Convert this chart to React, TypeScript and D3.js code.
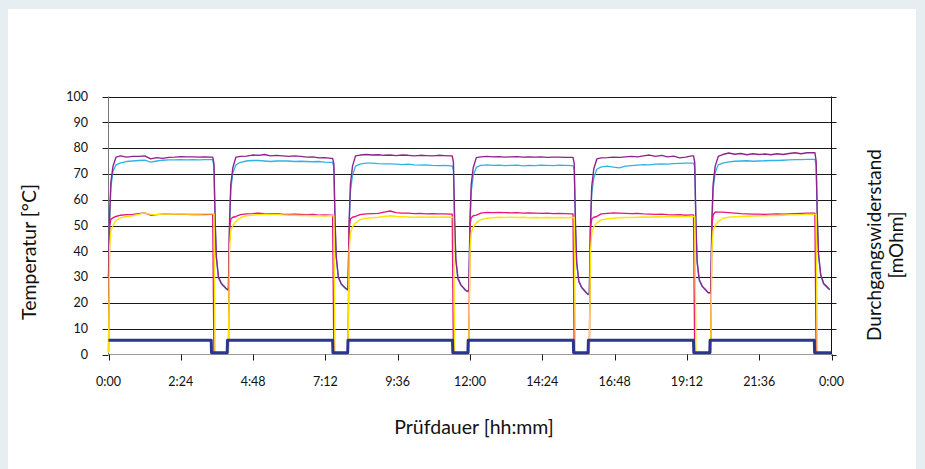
import React from "react";
import * as d3 from "d3";

// ---- data ----
const xTickLabels = ["0:00", "2:24", "4:48", "7:12", "9:36", "12:00", "14:24", "16:48", "19:12", "21:36", "0:00"];
const xTickHours = [0, 2.4, 4.8, 7.2, 9.6, 12, 14.4, 16.8, 19.2, 21.6, 24];
const yTicks = [0, 10, 20, 30, 40, 50, 60, 70, 80, 90, 100];

// start hour of each heating cycle
const cycleStarts = [0, 3.98, 7.95, 11.96, 15.96, 19.99];
// sample offsets (hours) inside one cycle
const cycleOffsets = [0, 0.04, 0.08, 0.15, 0.25, 0.4, 0.6, 0.8, 1.0, 1.2, 1.4, 1.6, 1.8, 2.0, 2.2, 2.4, 2.6, 2.8, 3.0, 3.2, 3.4, 3.46, 3.5, 3.54, 3.58, 3.65, 3.75, 3.9, 3.95];

const tempPurple = [
  [30, 55, 67, 73, 76.5, 77, 76.5, 76.8, 76.8, 77.0, 75.8, 76.3, 76.0, 76.4, 76.5, 76.7, 76.6, 76.6, 76.5, 76.6, 76.5, 76.5, 74, 52, 38, 30, 27.5, 25.7, 25.2],
  [25.2, 52, 66, 72.5, 76.5, 76.8, 76.9, 77.3, 77.2, 77.5, 77, 77.2, 77, 76.8, 77, 76.8, 76.5, 76.6, 76.2, 76.3, 76.0, 76.0, 74, 52, 38, 30, 27.3, 25.6, 25.2],
  [25.2, 52, 66, 73, 77, 77.3, 77.5, 77.3, 77.4, 77.2, 77.3, 77.1, 77.3, 77.2, 77, 77.2, 77.1, 77, 77.2, 77.1, 77.0, 77.0, 74.5, 52, 37, 29.5, 27, 25, 24.6],
  [24.6, 52, 66, 72.5, 76.3, 76.6, 76.8, 76.6, 76.7, 76.5, 76.6, 76.7, 76.5, 76.6, 76.5, 76.6, 76.4, 76.5, 76.5, 76.4, 76.4, 76.4, 74, 51, 36, 28.5, 26, 24, 23.4],
  [23.4, 51, 65, 72, 75.8, 76.2, 76.3, 76.5, 76.4, 76.6, 76.8, 76.6, 77, 77.3, 76.8, 77.2, 76.6, 76.9, 76.2, 76.5, 77.0, 77.0, 74.5, 51, 36, 29, 26.5, 24.6, 24.0],
  [24.0, 52, 66, 73, 76.8, 77.5, 78.1, 77.6, 77.9, 77.4, 77.8, 77.5, 77.7, 77.4, 77.8, 77.5, 77.9, 78.2, 77.8, 78.2, 78.2, 78.2, 75, 53, 39, 31, 27.5, 25.8, 25.2],
];

const tempCyan = [
  [30, 53, 65, 71, 73.5, 74.3, 74.8, 75, 75.2, 75.3, 74.6, 75, 75.3, 75.4, 75.4, 75.5, 75.4, 75.5, 75.4, 75.5, 75.5, 75.5, 73, 51, 37.5, 29.8, 27.3, 25.5, 25.0],
  [25, 50, 64, 70.5, 73.5, 74.5, 75, 75.2, 75.2, 75, 74.8, 75, 75, 75, 74.8, 74.9, 74.8, 74.7, 74.8, 74.6, 74.5, 74.5, 72.5, 51, 37.5, 29.8, 27.1, 25.4, 25.0],
  [25, 50, 63, 69.5, 73, 73.8, 74.2, 74.2, 74, 73.9, 73.9, 73.8, 73.6, 73.8, 73.5, 73.4, 73.5, 73.3, 73.2, 73.3, 73.1, 73.1, 71.5, 51, 36.5, 29.3, 26.8, 24.8, 24.4],
  [24.4, 50, 63, 69.5, 72.5, 73.3, 73.5, 73.3, 73.4, 73.2, 73.3, 73.4, 73.1, 73.3, 73.2, 73.4, 73.3, 73.2, 73.4, 73.3, 73.2, 73.2, 71.5, 50, 35.5, 28.3, 25.8, 23.8, 23.2],
  [23.2, 49, 62, 68.5, 71.8, 72.7, 73, 72.6, 72.3, 73, 73.2, 73.4, 73.6, 73.5, 73.8, 73.9, 73.8, 74, 74.1, 74.2, 74.2, 74.2, 72.5, 50, 35.5, 28.8, 26.3, 24.4, 23.8],
  [23.8, 50, 64, 70.5, 73.5, 74.2, 74.7, 74.9, 75, 75.1, 74.9, 75, 75.1, 75.2, 75.2, 75.3, 75.4, 75.5, 75.5, 75.6, 75.6, 75.6, 73.5, 52, 38.5, 30.8, 27.3, 25.6, 25.0],
];

const tempMagenta = [
  [1, 50, 52.5, 53, 53.5, 54, 54.2, 54.3, 54.6, 54.9, 54, 54.2, 54.4, 54.5, 54.3, 54.4, 54.3, 54.2, 54.3, 54.2, 54.3, 54.3, 0.7, 0.7, 0.7, 0.7, 0.7, 0.7, 0.7],
  [0.7, 49, 52.5, 53.2, 53.5, 54.2, 54.5, 54.6, 54.8, 54.6, 54.5, 54.6, 54.4, 54.3, 54.4, 54.3, 54.2, 54.3, 54.0, 54.1, 54.0, 54.0, 0.7, 0.7, 0.7, 0.7, 0.7, 0.7, 0.7],
  [0.7, 49, 52.5, 53.2, 53.5, 54.2, 54.5, 54.6, 54.7, 55.2, 55.6, 55, 54.8, 54.8, 54.6, 54.7, 54.5, 54.6, 54.5, 54.5, 54.4, 54.4, 0.7, 0.7, 0.7, 0.7, 0.7, 0.7, 0.7],
  [0.7, 50, 53, 53.8, 54, 54.8, 55.1, 55.0, 55.1, 55.0, 54.9, 55.0, 54.8, 54.9, 54.8, 54.7, 54.8, 54.6, 54.7, 54.6, 54.5, 54.5, 0.7, 0.7, 0.7, 0.7, 0.7, 0.7, 0.7],
  [0.7, 49, 52.5, 53.2, 53.5, 54.5, 54.7, 54.9, 54.8, 54.7, 54.6, 54.7, 54.5, 54.4, 54.3, 54.4, 54.2, 54.1, 54.2, 54.0, 54.1, 54.1, 0.7, 0.7, 0.7, 0.7, 0.7, 0.7, 0.7],
  [0.7, 50, 54, 55.3, 55.2, 55.2, 55, 54.8, 54.6, 54.5, 54.4, 54.4, 54.3, 54.4, 54.5, 54.4, 54.5, 54.6, 54.7, 54.8, 54.8, 54.8, 0.7, 0.7, 0.7, 0.7, 0.7, 0.7, 0.7],
];

const tempYellow = [
  [0.7, 42, 48, 50, 52, 53, 53.5, 53.8, 54.3, 54.9, 54.3, 54.2, 54.4, 54.5, 54.4, 54.5, 54.4, 54.5, 54.4, 54.5, 54.5, 54.5, 54.5, 0.7, 0.7, 0.7, 0.7, 0.7, 0.7],
  [0.7, 42, 48, 50, 51.5, 53, 53.8, 54, 54.2, 54.3, 54.2, 54.3, 54.1, 54, 54, 53.9, 53.9, 53.8, 53.8, 53.7, 53.8, 53.8, 53.8, 0.7, 0.7, 0.7, 0.7, 0.7, 0.7],
  [0.7, 40, 47, 49.5, 51, 52.3, 52.8, 53, 53.2, 53.5, 53.8, 53.5, 53.4, 53.3, 53.2, 53.3, 53.2, 53.3, 53.2, 53.3, 53.2, 53.2, 53.2, 0.7, 0.7, 0.7, 0.7, 0.7, 0.7],
  [0.7, 40, 47, 49.5, 51, 52.3, 52.8, 53, 53.2, 53.1, 53.2, 53.1, 53.2, 53.0, 53.1, 53.0, 53.1, 53.0, 53.1, 53.0, 53.1, 53.1, 53.1, 0.7, 0.7, 0.7, 0.7, 0.7, 0.7],
  [0.7, 40, 47, 49.5, 51, 52.2, 52.6, 52.8, 53, 53.1, 53.1, 53.2, 53.3, 53.2, 53.4, 53.3, 53.4, 53.5, 53.4, 53.5, 53.5, 53.5, 53.5, 0.7, 0.7, 0.7, 0.7, 0.7, 0.7],
  [0.7, 41, 48, 50, 51.5, 52.8, 53.2, 53.4, 53.5, 53.6, 53.7, 53.8, 53.8, 53.9, 53.9, 54, 54.1, 54.1, 54.2, 54.3, 54.3, 54.3, 54.3, 0.7, 0.7, 0.7, 0.7, 0.7, 0.7],
];

// contact resistance (dark blue): switched on/off
const resistanceUpHours = [0, 3.95, 7.95, 11.94, 15.93, 19.97];
const resistanceDownHours = [3.41, 7.44, 11.42, 15.43, 19.42, 23.43];
const resistanceOn = [5.5, 5.5, 5.5, 5.5, 5.5, 5.5];
const resistanceOff = 0.7;

type Pt = [number, number];

function buildTemp(values: number[][]): Pt[] {
  const pts: Pt[] = [];
  cycleStarts.forEach((s, i) => {
    cycleOffsets.forEach((o, j) => pts.push([s + o, values[i][j]]));
  });
  return pts;
}

function buildResistance(): Pt[] {
  const pts: Pt[] = [];
  resistanceUpHours.forEach((u, i) => {
    if (i > 0) pts.push([u - 0.01, resistanceOff]);
    pts.push([u, resistanceOn[i]]);
    pts.push([resistanceDownHours[i], resistanceOn[i]]);
    pts.push([resistanceDownHours[i] + 0.01, resistanceOff]);
  });
  pts.push([24, resistanceOff]);
  return pts;
}

const W = 925;
const H = 469;
const plotL = 108.5;
const plotR = 831.5;
const plotT = 96.5;
const plotB = 354.5;

export default function App() {
  const x = d3.scaleLinear().domain([0, 24]).range([plotL, plotR]);
  const y = d3.scaleLinear().domain([0, 100]).range([plotB, plotT]);
  const line = d3
    .line<Pt>()
    .x((d) => x(d[0]))
    .y((d) => y(d[1]));

  const series = [
    { data: buildTemp(tempCyan), color: "#2fb3e6", w: 1.3 },
    { data: buildTemp(tempPurple), color: "#8f238c", w: 1.4 },
    { data: buildTemp(tempMagenta), color: "#e6157f", w: 1.4 },
    { data: buildTemp(tempYellow), color: "#ffe500", w: 1.4 },
    { data: buildResistance(), color: "#2b3490", w: 3 },
  ];

  const font = "Lato, 'Open Sans', sans-serif";

  return (
    <svg
      width={W}
      height={H}
      style={{ position: "absolute", left: 0, top: 0, display: "block" }}
      fontFamily={font}
    >
      <rect x={0} y={0} width={W} height={H} fill="#e6eef2" />
      <rect x={8} y={9} width={908} height={H} fill="#ffffff" />

      {/* gridlines */}
      {yTicks.map((t) => (
        <g key={"g" + t}>
          {t > 0 && (
            <line x1={plotL} x2={plotR} y1={Math.round(y(t)) + 0.5} y2={Math.round(y(t)) + 0.5} stroke="#1a1a1a" strokeWidth={1} />
          )}
          <line x1={plotL - 6} x2={plotL} y1={Math.round(y(t)) + 0.5} y2={Math.round(y(t)) + 0.5} stroke="#1a1a1a" strokeWidth={1} />
          <line x1={plotR} x2={plotR + 5} y1={Math.round(y(t)) + 0.5} y2={Math.round(y(t)) + 0.5} stroke="#1a1a1a" strokeWidth={1} />
          <text x={88} y={y(t)} dy="0.35em" textAnchor="end" fontSize={12.5} fill="#111">
            {t}
          </text>
        </g>
      ))}

      {/* axes */}
      <line x1={plotL} x2={plotL} y1={plotT} y2={plotB} stroke="#777" strokeWidth={1} />
      <line x1={plotR} x2={plotR} y1={plotT} y2={plotB} stroke="#111" strokeWidth={1} />
      <line x1={plotL} x2={plotR} y1={plotB} y2={plotB} stroke="#999" strokeWidth={1} />
      {xTickHours.map((h, i) => (
        <g key={"x" + i}>
          <line x1={Math.round(x(h)) + 0.5} x2={Math.round(x(h)) + 0.5} y1={plotB} y2={plotB + 6} stroke="#1a1a1a" strokeWidth={1} />
          <text x={x(h)} y={386} textAnchor="middle" fontSize={12.5} fill="#111">
            {xTickLabels[i]}
          </text>
        </g>
      ))}

      {/* series */}
      {series.map((s, i) => (
        <path key={i} d={line(s.data) || ""} fill="none" stroke={s.color} strokeWidth={s.w} strokeLinejoin="round" />
      ))}

      {/* titles */}
      <text x={474} y={434} textAnchor="middle" fontSize={19.5} fill="#111">
        Prüfdauer [hh:mm]
      </text>
      <text transform="translate(36,252) rotate(-90)" textAnchor="middle" fontSize={19.5} fill="#111">
        Temperatur [°C]
      </text>
      <text transform="translate(881,245) rotate(-90)" textAnchor="middle" fontSize={19} fill="#111">
        Durchgangswiderstand
      </text>
      <text transform="translate(903,245) rotate(-90)" textAnchor="middle" fontSize={19} fill="#111">
        [mOhm]
      </text>
    </svg>
  );
}
